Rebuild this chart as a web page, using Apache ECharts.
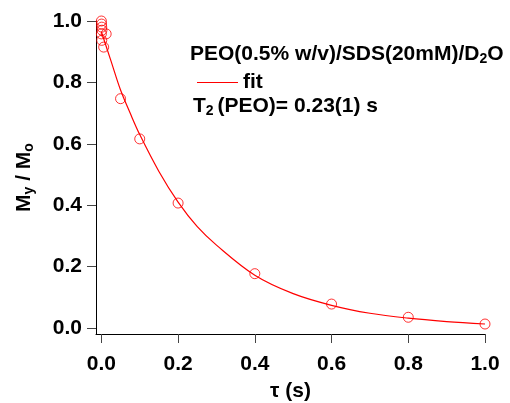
<!DOCTYPE html>
<html>
<head>
<meta charset="utf-8">
<script src="https://cdn.jsdelivr.net/npm/echarts@6/dist/echarts.min.js"></script>
<style>
  html, body { margin: 0; padding: 0; background: #fff; }
  #chart { width: 510px; height: 403px; }
</style>
</head>
<body>
<div id="chart"></div>
<script>
// Measured echo decay: delay time tau (s) and normalised magnetisation My/Mo
const tau = [0, 0.0005, 0.001, 0.0015, 0, 0.0125, 0.001, 0.006, 0.05, 0.1, 0.2, 0.4, 0.6, 0.8, 1.0];
const magnetisation = [1.0, 0.99, 0.98, 0.97, 0.958, 0.958, 0.937, 0.915, 0.747, 0.616, 0.407, 0.177, 0.078, 0.035, 0.013];

// Exponential fit curve, sampled along tau
const fitTau = [0, 0.025, 0.05, 0.075, 0.1, 0.15, 0.2, 0.25, 0.3, 0.4, 0.5, 0.6, 0.7, 0.8, 0.9, 1.0];
const fitValues = [0.965, 0.87, 0.775, 0.70, 0.63, 0.51, 0.41, 0.33, 0.27, 0.172, 0.112, 0.074, 0.048, 0.032, 0.021, 0.013];

// Tick positions for both axes
const xTicks = [0, 0.2, 0.4, 0.6, 0.8, 1.0];
const yTicks = [0, 0.2, 0.4, 0.6, 0.8, 1.0];

const FONT = '"Liberation Sans", Arial, sans-serif';
const RED = '#ff0000';
const SIZE = 21;

const chart = echarts.init(document.getElementById('chart'), null, { renderer: 'canvas' });

const tickLabel = { fontFamily: FONT, fontWeight: 'bold', fontSize: SIZE, color: '#000' };

// Rich-text styles: normal run and subscript run
const richRuns = {
  m: { fontFamily: FONT, fontWeight: 'bold', fontSize: SIZE, lineHeight: 24, verticalAlign: 'middle', fill: '#000', color: '#000' },
  s: { fontFamily: FONT, fontWeight: 'bold', fontSize: 14, lineHeight: 14, verticalAlign: 'bottom', fill: '#000', color: '#000' }
};

chart.setOption({
  animation: false,
  backgroundColor: '#fff',
  grid: { left: 96, right: 25, top: 21, bottom: 69, containLabel: false, outerBoundsMode: 'none' },
  xAxis: {
    type: 'value',
    min: -0.014,
    max: 1.0,
    name: 'τ (s)',
    nameLocation: 'middle',
    nameGap: 47,
    nameTextStyle: { fontFamily: FONT, fontWeight: 'bold', fontSize: SIZE, color: '#000' },
    axisLine: { onZero: false, lineStyle: { color: '#000', width: 1 } },
    axisTick: { show: true, inside: false, length: 9, customValues: xTicks, lineStyle: { color: '#444', width: 1 } },
    axisLabel: Object.assign({ customValues: xTicks, margin: 20, formatter: v => v.toFixed(1) }, tickLabel),
    splitLine: { show: false }
  },
  yAxis: {
    type: 'value',
    min: -0.0195,
    max: 1.0,
    name: '{m|M}{s|y}{m| / M}{s|o}',
    nameLocation: 'middle',
    nameGap: 60,
    nameRotate: 90,
    nameTextStyle: { color: '#000', rich: richRuns },
    axisLine: { onZero: false, lineStyle: { color: '#000', width: 1 } },
    axisTick: { show: true, inside: false, length: 9, customValues: yTicks, lineStyle: { color: '#444', width: 1 } },
    axisLabel: Object.assign({ customValues: yTicks, margin: 14, formatter: v => v.toFixed(1) }, tickLabel),
    splitLine: { show: false }
  },
  legend: {
    data: ['fit'],
    icon: 'rect',
    left: 192,
    top: 67,
    itemWidth: 41,
    itemHeight: 1.2,
    itemGap: 8,
    itemStyle: { color: RED, borderWidth: 0 },
    textStyle: { fontFamily: FONT, fontWeight: 'bold', fontSize: SIZE, color: '#000' }
  },
  graphic: [
    {
      type: 'text',
      left: 190,
      top: 44,
      style: { text: '{m|PEO(0.5% w/v)/SDS(20mM)/D}{s|2}{m|O}', rich: richRuns }
    },
    {
      type: 'text',
      left: 193,
      top: 96,
      style: { text: '{m|T}{s|2 }{m|(PEO)= 0.23(1) s}', rich: richRuns }
    }
  ],
  series: [
    {
      name: 'data',
      type: 'scatter',
      data: tau.map((t, i) => [t, magnetisation[i]]),
      symbol: 'circle',
      symbolSize: 10,
      clip: false,
      itemStyle: { color: 'rgba(0,0,0,0)', borderColor: RED, borderWidth: 1 },
      z: 3
    },
    {
      name: 'fit',
      type: 'line',
      data: fitTau.map((t, i) => [t, fitValues[i]]),
      symbol: 'none',
      smooth: 0.35,
      lineStyle: { color: RED, width: 1.2 },
      itemStyle: { color: RED },
      z: 2
    }
  ]
});
</script>
</body>
</html>
